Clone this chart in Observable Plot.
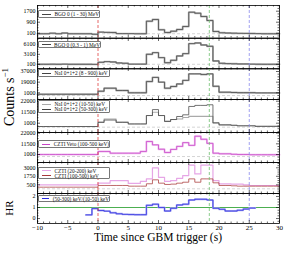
<!DOCTYPE html>
<html><head><meta charset="utf-8">
<script src="https://cdn.jsdelivr.net/npm/d3@7"></script>
<script src="https://cdn.jsdelivr.net/npm/@observablehq/plot@0.6"></script>
<style>
body{margin:0;background:#fff;}
#chart{position:relative;width:290px;height:261px;font-family:"Liberation Serif",serif;overflow:hidden;}
.panel{position:absolute;left:0;}
.leg{position:absolute;border:0.7px solid #777;border-radius:1px;background:#fff;box-sizing:border-box;padding:1px 0 0 3px;}
.ent{display:flex;align-items:center;height:4.8px;font-size:5.3px;white-space:nowrap;color:#111;}
.ent .ln{display:inline-block;width:9px;margin-right:3.5px;}
.ttl{position:absolute;white-space:nowrap;color:#000;}
</style></head><body><div id="chart"></div><script>
// ---- data ----
const binStart = [-10,-9,-8,-7,-6,-5,-4,-3,-2,-1,0,1,2,3,4,5,6,7,8,9,10,11,12,13,14,15,16,17,18,19,20,21,22,23,24,25,26,27,28,29];
const bgoHigh = [60,60,100,60,110,60,60,60,60,20,180,160,150,70,70,70,60,60,972,1096,347,151,245,369,587,1627,1554,1314,1023,224,130,110,100,90,85,80,70,60,60,60];
const bgoLow = [100,100,130,100,150,100,100,100,100,80,700,900,800,500,400,150,150,150,3100,3600,2100,580,1300,2600,3300,6300,6500,5900,5500,1100,400,300,250,200,200,150,120,100,100,100];
const naiAll = [-1500,-1500,-1500,-1500,-1500,-1500,-1500,-1500,-1500,-1500,3700,8800,8800,4900,4900,1000,1000,1000,20000,27000,19000,8800,11700,16000,22000,33000,33000,32000,33000,12000,2000,2000,1500,1200,1200,1200,800,800,800,800];
const naiSoft = [-2200,-2200,-2200,-2200,-2200,-2200,-2200,-2200,-2200,-2200,2000,5000,5000,2000,2000,300,300,300,8300,11500,8300,3000,4500,5000,6500,7500,7500,7500,7500,1300,-600,-600,-1000,-1500,-1500,-1500,-2000,-2000,-2000,-2000];
const naiHard = [-2200,-2200,-2200,-2200,-2200,-2200,-2200,-2200,-2200,-2200,1800,4000,4000,1800,1800,300,300,300,8300,14000,8300,2600,4500,7400,9000,17000,18000,18000,18600,1300,-600,-600,-1000,-1500,-1500,-1500,-2000,-2000,-2000,-2000];
const cztiVeto = [1000,1000,1000,1000,1000,1000,1000,1000,1000,1000,4000,4000,2300,2300,2300,2300,2300,4000,13800,10500,6200,3000,6000,9000,12700,10000,19000,16000,12000,2300,1700,1700,1200,1000,1000,800,800,800,800,800];
const cztiSoft = [500,500,500,500,500,500,500,500,500,500,740,740,1100,1100,1100,700,700,1000,1370,3000,1600,1000,1100,1450,1850,3380,2100,3380,3380,1100,650,650,600,600,500,400,400,400,400,400];
const cztiHard = [150,150,150,150,150,150,150,150,150,150,400,400,400,400,400,300,300,300,650,1230,740,550,600,740,880,1370,880,1370,1370,790,400,400,350,300,300,300,300,300,300,300];
const hrStart = [-2,-1,0,1,2,3,4,5,6,7,8,9,10,11,12,13,14,15,16,17,18,19,20,21,22,23,24,25];
const hardnessRatio = [0.33,0.9,0.73,0.67,0.52,0.43,0.38,0.36,0.35,0.35,1.2,1.3,1.0,0.68,0.93,1.23,1.3,1.68,1.75,1.75,1.68,0.93,0.84,0.68,0.68,0.75,0.86,0.95];
const background = [60,100,-3600,-2800,-1000,-90];
const hrReference = [1];
const eventTimes = [0, 18.4, 25];
const eventColors = ["#e04040","#70c070","#8a8aee"];
const xMajor = [-10,-5,0,5,10,15,20,25,30];
const yTicks = [[100,900,1700],[100,3100,6100],[1000,19000,37000],[1000,11500,22000],[1000,11500,22000],[500,1750,3000],[0,1,2]];
const legendLabels = [["BGO 0 (1 - 30) MeV"],["BGO 0 (0.3 - 1) MeV"],["NaI 0+1+2 (8 - 900) keV"],["NaI 0+1+2 (10-50) keV","NaI 0+1+2 (50-300) keV"],["CZTI Veto (100-500 keV)"],["CZTI (20-200) keV","CZTI (100-500) keV"],["(50-300) keV/(10-50) keV"]];

// ---- layout ----
const W = 290, ML = 37, MR = 11;
const panelTop = [5, 37.5, 68, 99, 132, 162, 193, 223];
const domains = [[-250,2114],[-1310,7840],[-10320,42070],[-7880,23630],[-6880,22670],[-780,3780],[-0.45,2.27]];
const series = [
  [{start:binStart, values:bgoHigh, color:"#444", under:"#b4b4b4"}],
  [{start:binStart, values:bgoLow, color:"#444", under:"#b4b4b4"}],
  [{start:binStart, values:naiAll, color:"#444", under:"#b4b4b4"}],
  [{start:binStart, values:naiSoft, color:"#aaa", width:1.1},{start:binStart, values:naiHard, color:"#444"}],
  [{start:binStart, values:cztiVeto, color:"#c845c8", under:"#eebbee"}],
  [{start:binStart, values:cztiSoft, color:"#e6a6e6", width:1.2},{start:binStart, values:cztiHard, color:"#a83a3a"}],
  [{start:hrStart, values:hardnessRatio, color:"#2a2ae0", under:"#aaaaf2"}]
];
const legendBox = [
  {left:38, top:10, w:62},
  {left:38, top:40.5, w:63},
  {left:38, top:69, w:72},
  {left:38, top:100, w:72},
  {left:38, top:140, w:72},
  {left:38, top:166.5, w:72},
  {left:38, top:194.5, w:72}
];

const chart = document.getElementById("chart");

function stepData(starts, vals) {
  const pts = starts.map((s,i)=>({t:s, v:vals[i]}));
  pts.push({t: starts[starts.length-1] + 1, v: vals[vals.length-1]});
  return pts;
}
const fmt = d => d < 0 ? "\u2212" + (-d) : String(d);

for (let i = 0; i < 7; i++) {
  const top = panelTop[i], h = panelTop[i+1] - top;
  const last = i === 6;
  const pw = W - ML - MR;
  const [y0, y1] = domains[i];
  const tk = yTicks[i];
  const st = tk[1] - tk[0];
  const yMinor = d3.range(tk[0] - st*3, y1, st/4).filter(v => v >= y0 && v <= y1 && !tk.includes(v));
  const xMinor = d3.range(-10, 31, 1).filter(v => !xMajor.includes(v));
  const marks = [];
  if (i < 6) marks.push(Plot.ruleY([background[i]], {y: d=>d, stroke:"#c4c4c4", strokeDasharray:"3,2", strokeWidth:0.7}));
  else marks.push(Plot.ruleY(hrReference, {y: d=>d, stroke:"#4caf50", strokeWidth:1.2}));
  for (const s of series[i]) {
    const d = stepData(s.start, s.values);
    if (s.under) marks.push(Plot.line(d, {x:"t", y:"v", curve:"step-after", stroke:s.under, strokeWidth:1.9}));
    marks.push(Plot.line(d, {x:"t", y:"v", curve:"step-after", stroke:s.color, strokeWidth:s.width || 0.75}));
  }
  eventTimes.forEach((et, k) => marks.push(Plot.ruleX([et], {x:d=>d, stroke:eventColors[k], strokeDasharray:"3,2", strokeWidth:0.8})));
  const tc = {stroke:"#000", strokeWidth:0.6};
  marks.push(
    Plot.tickX(xMinor, {x:d=>d, insetBottom:h-1.5, ...tc}),
    Plot.tickX(xMinor, {x:d=>d, insetTop:h-1.5, ...tc}),
    Plot.tickX(xMajor, {x:d=>d, insetBottom:h-3, ...tc}),
    Plot.tickX(xMajor, {x:d=>d, insetTop:h-3, ...tc}),
    Plot.tickY(yMinor, {y:d=>d, insetRight:pw-1.5, ...tc}),
    Plot.tickY(yMinor, {y:d=>d, insetLeft:pw-1.5, ...tc}),
    Plot.tickY(tk, {y:d=>d, insetRight:pw-3, ...tc}),
    Plot.tickY(tk, {y:d=>d, insetLeft:pw-3, ...tc}),
    Plot.frame({stroke:"#000", strokeWidth:0.8}),
    Plot.text(tk, {y:d=>d, frameAnchor:"left", dx:-2, textAnchor:"end", text:d=>String(d), fontSize:6, fill:"#000"})
  );
  if (last) marks.push(Plot.text(xMajor, {x:d=>d, frameAnchor:"bottom", dy:6, text:fmt, fontSize:7, fill:"#000"}));
  const svg = Plot.plot({
    width: W, height: h + (last ? 30 : 0),
    marginLeft: ML, marginRight: MR, marginTop: 0, marginBottom: last ? 30 : 0,
    x: {domain: [-10, 30], axis: null},
    y: {domain: [y0, y1], axis: null},
    style: {fontFamily: '"Liberation Serif", serif', overflow: "visible", background: "transparent"},
    marks
  });
  svg.classList.add("panel");
  svg.style.top = top + "px";
  chart.appendChild(svg);
}

// legends
legendLabels.forEach((labels, i) => {
  const box = document.createElement("div");
  box.className = "leg";
  const b = legendBox[i];
  box.style.left = b.left + "px"; box.style.top = b.top + "px"; box.style.width = b.w + "px";
  box.style.height = (labels.length * 4.8 + 3) + "px";
  labels.forEach((lab, k) => {
    const s = series[i][k];
    const e = document.createElement("div"); e.className = "ent";
    const ln = document.createElement("span"); ln.className = "ln";
    ln.style.borderTop = (s.under ? 1.3 : 1.1) + "px solid " + s.color;
    const tx = document.createElement("span"); tx.textContent = lab;
    e.appendChild(ln); e.appendChild(tx); box.appendChild(e);
  });
  chart.appendChild(box);
});

// axis titles
const xt = document.createElement("div"); xt.className = "ttl";
xt.textContent = "Time since GBM trigger (s)";
xt.style.cssText += "font-size:11.5px;left:158px;top:231px;transform:translateX(-50%);";
chart.appendChild(xt);
const yt = document.createElement("div"); yt.className = "ttl";
yt.innerHTML = 'Counts s<sup style="font-size:9px;vertical-align:6px">\u22121</sup>';
yt.style.cssText += "font-size:14px;left:9px;top:97px;transform:translate(-50%,-50%) rotate(-90deg);";
chart.appendChild(yt);
const hr = document.createElement("div"); hr.className = "ttl";
hr.textContent = "HR";
hr.style.cssText += "font-size:11px;left:9px;top:208px;transform:translate(-50%,-50%) rotate(-90deg);";
chart.appendChild(hr);
</script></body></html>
